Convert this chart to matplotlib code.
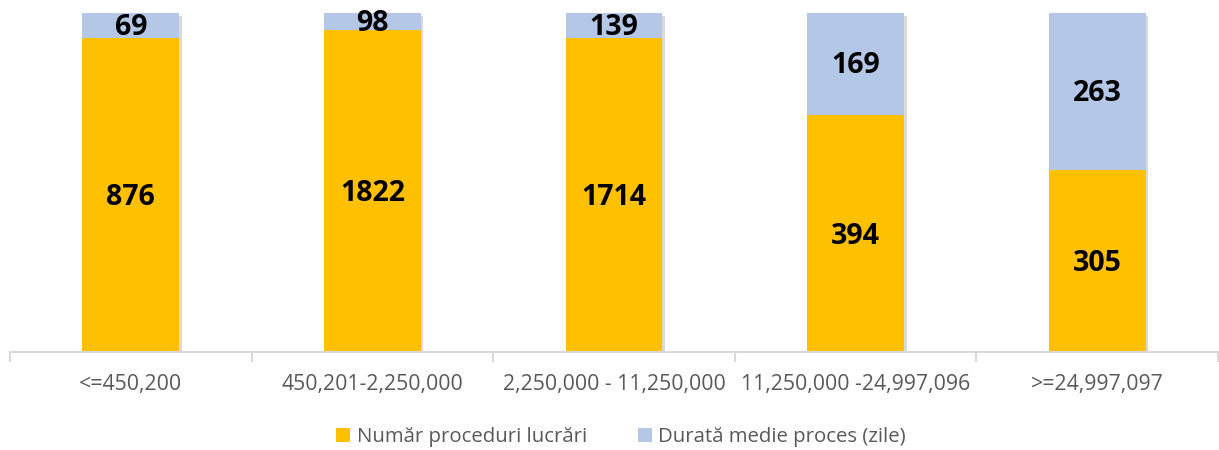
import matplotlib
matplotlib.use("Agg")
import matplotlib.pyplot as plt
import matplotlib.patheffects as pe
import numpy as np

categories = ["<=450,200", "450,201-2,250,000", "2,250,000 - 11,250,000",
              "11,250,000 -24,997,096", ">=24,997,097"]
proceduri = [876, 1822, 1714, 394, 305]
durata = [69, 98, 139, 169, 263]
series_names = ["Număr proceduri lucrări", "Durată medie proces (zile)"]

plt.rcParams['font.family'] = ['Open Sans', 'DejaVu Sans']

fig = plt.figure(figsize=(12.19, 4.5), dpi=100)
ax = fig.add_axes([10/1219, 98/450, 1208/1219, 339/450])

p = np.array(proceduri, float)
d = np.array(durata, float)
tot = p + d
pf = p / tot * 100
df = d / tot * 100
x = np.arange(len(categories))
w = 0.40

# soft shadow behind whole bars
sh = ax.bar(x, pf + df, w, color='white', zorder=1)
for r in sh:
    r.set_path_effects([pe.SimplePatchShadow(offset=(2, -2), shadow_rgbFace='#000000', alpha=0.15)])

b1 = ax.bar(x, pf, w, color='#FFC000', label=series_names[0], zorder=2)
b2 = ax.bar(x, df, w, bottom=pf, color='#B4C7E7', label=series_names[1], zorder=2)

for i in range(len(x)):
    ax.text(x[i], pf[i] / 2 - 0.8, str(proceduri[i]), ha='center', va='center',
            fontsize=20.5, fontweight='bold', color='black', zorder=3)
    ax.text(x[i], pf[i] + df[i] / 2 - 0.5, str(durata[i]), ha='center', va='center',
            fontsize=20.5, fontweight='bold', color='black', zorder=3)

ax.set_xlim(-0.5, len(x) - 0.5)
ax.set_ylim(0, 100)
ax.set_yticks([])
for s in ['top', 'right', 'left']:
    ax.spines[s].set_visible(False)
ax.spines['bottom'].set_color('#D9D9D9')
ax.spines['bottom'].set_linewidth(1.5)
ax.spines['bottom'].set_zorder(4)
ax.set_xticks(np.arange(-0.5, len(x), 1.0))
ax.set_xticklabels([])
ax.tick_params(axis='x', which='major', length=7, width=1.5, color='#D9D9D9')
ax.set_xticks(x, minor=True)
ax.set_xticklabels(categories, minor=True, fontsize=15.3, color='#595959')
ax.tick_params(axis='x', which='minor', length=0, pad=16)

fig.legend(handles=[b1, b2], labels=series_names, loc='center', bbox_to_anchor=(621/1219, 1 - 437/450),
           ncol=2, frameon=False, fontsize=14.7, labelcolor='#595959',
           handlelength=0.7, handleheight=0.7, handletextpad=0.3, columnspacing=2.5)

fig.savefig("out.png", dpi=100)
